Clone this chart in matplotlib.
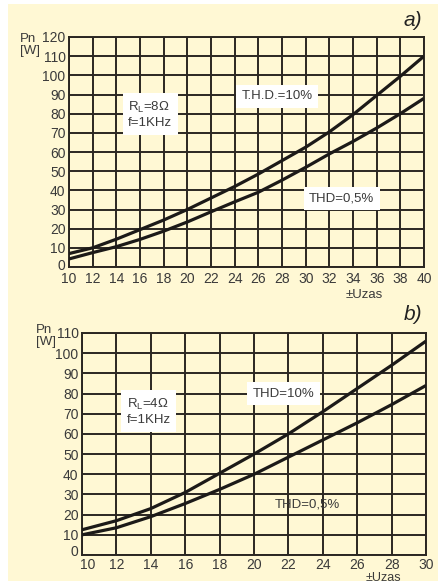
import matplotlib
matplotlib.use("Agg")
import matplotlib.pyplot as plt
from matplotlib.patches import Rectangle
from matplotlib.transforms import ScaledTranslation

plt.rcParams['font.family'] = ['Liberation Sans', 'DejaVu Sans']

# ---- data: chart a) RL = 8 ohm ----
ua = [10, 12, 14, 16, 18, 20, 22, 24, 26, 28, 30, 32, 34, 36, 38, 40]
pa_thd10 = [7, 10, 14.5, 19.5, 24.5, 30, 36, 42, 48.5, 55.5, 62.5, 70.5, 79.5, 89.5, 99.5, 110]
pa_thd05 = [4.2, 7.5, 10.6, 14.4, 18.7, 23.5, 28.8, 34, 39, 45.3, 52, 59, 65.5, 72.5, 80, 88]
xticks_a = list(range(10, 41, 2))
yticks_a = list(range(0, 121, 10))

# ---- data: chart b) RL = 4 ohm ----
ub = [10, 12, 14, 16, 18, 20, 22, 24, 26, 28, 30]
pb_thd10 = [12.5, 17, 23, 31, 40.5, 50, 60, 71, 82.5, 94, 106]
pb_thd05 = [10, 13.5, 19, 25.5, 32.5, 40, 48.5, 57, 65.5, 74.5, 84]
xticks_b = list(range(10, 31, 2))
yticks_b = list(range(0, 111, 10))

CREAM = '#FFF8D4'
GRID = '#2b2722'
LINE = '#1c1a18'
TXT = '#3a3a3a'

W, H = 444, 584
fig = plt.figure(figsize=(W / 100, H / 100), dpi=100, facecolor='white')
fig.patches.append(Rectangle((8 / W, 1 - 581 / H), 430 / W, 577 / H,
                             transform=fig.transFigure, facecolor=CREAM,
                             edgecolor='none', zorder=-10))


def make_axes(rect, xt, yt, xlim, ylim, xpad=3.5):
    ax = fig.add_axes(rect)
    ax.set_facecolor(CREAM)
    ax.set_xlim(*xlim)
    ax.set_ylim(*ylim)
    ax.set_xticks(xt)
    ax.set_yticks(yt)
    ax.grid(True, color=GRID, linewidth=1.4)
    ax.set_axisbelow(True)
    for s in ax.spines.values():
        s.set_color(GRID)
        s.set_linewidth(1.4)
    ax.tick_params(length=0, labelsize=10, labelcolor=TXT)
    ax.tick_params(axis='x', pad=xpad)
    ax.tick_params(axis='y', pad=2.5)
    return ax


def shift_label(lbl, dx_px, dy_px):
    lbl.set_transform(lbl.get_transform() + ScaledTranslation(dx_px / 100, dy_px / 100, fig.dpi_scale_trans))


def box_text(ax, x, y, s, box=True, ha='left', va='center'):
    kw = dict(fontsize=9.5, color=TXT, ha=ha, va=va, linespacing=1.25)
    if box:
        kw['bbox'] = dict(facecolor='white', edgecolor='none', pad=4)
    ax.text(x, y, s, zorder=5, **kw)


# ---- chart a ----
axa = make_axes([69 / W, 1 - 267 / H, 355 / W, 230 / H], xticks_a, yticks_a, (10, 40), (0, 120))
axa.plot(ua, pa_thd10, color=LINE, linewidth=2.3, solid_capstyle='butt', zorder=3)
axa.plot(ua, pa_thd05, color=LINE, linewidth=2.3, solid_capstyle='butt', zorder=3)
box_text(axa, 15.0, 79.5, 'R$_{\\mathregular{L}}$=8\u03a9\nf=1KHz')
box_text(axa, 24.6, 89, 'T.H.D.=10%')
box_text(axa, 30.3, 35.5, 'THD=0,5%')
fig.text(20 / W, 1 - 45 / H, 'Pn\n[W]', fontsize=9.5, color=TXT, ha='left', va='center', linespacing=1.1)
fig.text(404 / W, 1 - 20 / H, 'a)', fontsize=15, style='italic', color='#222222', ha='left', va='center')
fig.text(364 / W, 1 - 295 / H, '\u00b1Uzas', fontsize=9.5, color=TXT, ha='center', va='center')

# ---- chart b ----
axb = make_axes([82 / W, 1 - 555 / H, 344 / W, 222 / H], xticks_b, yticks_b, (10, 30), (0, 110), xpad=2.5)
axb.plot(ub, pb_thd10, color=LINE, linewidth=2.3, solid_capstyle='butt', zorder=3)
axb.plot(ub, pb_thd05, color=LINE, linewidth=2.3, solid_capstyle='butt', zorder=3)
box_text(axb, 12.6, 71, 'R$_{\\mathregular{L}}$=4\u03a9\nf=1KHz')
box_text(axb, 19.9, 80, 'THD=10%')
box_text(axb, 23.1, 25.2, 'THD=0,5%', box=False, ha='center')
fig.text(36 / W, 1 - 336 / H, 'Pn\n[W]', fontsize=9.5, color=TXT, ha='left', va='center', linespacing=1.1)
fig.text(404 / W, 1 - 314 / H, 'b)', fontsize=15, style='italic', color='#222222', ha='left', va='center')
fig.text(383 / W, 1 - 572 / H, '\u00b1Uzas', fontsize=9, color=TXT, ha='center', va='top')

# small offsets of the corner labels, as in the reference
fig.canvas.draw()
shift_label(axa.get_yticklabels()[0], 0, 3)
shift_label(axb.get_xticklabels()[0], 6, 0)
shift_label(axb.get_yticklabels()[0], 0, 4)

fig.savefig('out.png', dpi=100, facecolor='white')
